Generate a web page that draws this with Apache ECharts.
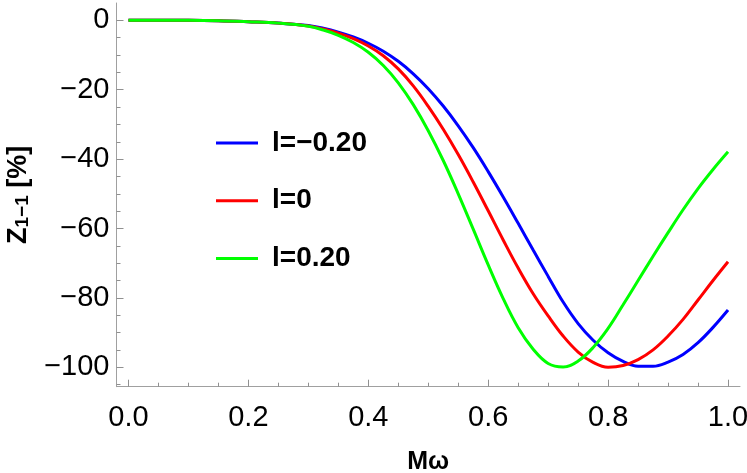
<!DOCTYPE html>
<html>
<head>
<meta charset="utf-8">
<script src="https://cdn.jsdelivr.net/npm/echarts@6/dist/echarts.min.js"></script>
<style>
html,body{margin:0;padding:0;background:#fff;}
#c{width:747px;height:473px;}
</style>
</head>
<body>
<div id="c"></div>
<script>
const seriesNames = ['l=\u22120.20', 'l=0', 'l=0.20'];
const seriesColors = ['#0000ff', '#ff0000', '#00ff00'];

const blueData = [[0,0],[0.1,0],[0.15,-0.1],[0.2,-0.4],[0.25,-0.8],[0.3,-1.5],[0.325,-2.3],[0.35,-3.4],[0.375,-4.8],[0.4,-6.6],[0.425,-8.9],[0.45,-11.8],[0.475,-15.4],[0.5,-19.7],[0.525,-24.7],[0.55,-30.4],[0.575,-36.7],[0.6,-43.6],[0.625,-50.9],[0.65,-58.5],[0.675,-66.2],[0.7,-73.8],[0.725,-81.2],[0.75,-87.4],[0.775,-92.2],[0.8,-95.8],[0.825,-98.3],[0.85,-99.7],[0.875,-99.7],[0.9,-98.5],[0.925,-96.3],[0.95,-92.9],[0.975,-88.5],[1.0,-83.5]];

const redData = [[0,0],[0.1,0],[0.15,-0.1],[0.2,-0.4],[0.25,-0.8],[0.3,-1.6],[0.325,-2.5],[0.35,-3.7],[0.375,-5.3],[0.4,-7.4],[0.425,-10.2],[0.45,-14.0],[0.475,-18.9],[0.5,-24.8],[0.525,-31.4],[0.55,-38.7],[0.575,-46.6],[0.6,-54.9],[0.625,-63.3],[0.65,-71.4],[0.675,-78.8],[0.7,-85.2],[0.725,-91.0],[0.75,-95.6],[0.775,-98.6],[0.8,-100],[0.825,-99.5],[0.85,-97.8],[0.875,-95.0],[0.9,-91.0],[0.925,-86.2],[0.95,-80.6],[0.975,-75.0],[1.0,-69.6]];

const greenData = [[0,0],[0.1,0],[0.15,-0.1],[0.2,-0.4],[0.25,-0.8],[0.3,-1.7],[0.325,-2.8],[0.35,-4.3],[0.375,-6.4],[0.4,-9.2],[0.425,-13.0],[0.45,-18.0],[0.475,-24.3],[0.5,-31.8],[0.525,-40.4],[0.55,-50.0],[0.575,-60.2],[0.6,-70.5],[0.625,-80.2],[0.65,-88.6],[0.675,-94.8],[0.7,-98.9],[0.725,-99.9],[0.75,-98.2],[0.775,-94.3],[0.8,-88.8],[0.825,-82.0],[0.85,-75.0],[0.875,-68.0],[0.9,-61.2],[0.925,-54.6],[0.95,-48.5],[0.975,-43.0],[1.0,-37.9]];

const xMajorTicks = [0, 0.2, 0.4, 0.6, 0.8, 1.0];
const xMinorTicks = [0.05,0.1,0.15,0.25,0.3,0.35,0.45,0.5,0.55,0.65,0.7,0.75,0.85,0.9,0.95];
const yMajorTicks = [0, -20, -40, -60, -80, -100];
const yMinorTicks = [-5,-10,-15,-25,-30,-35,-45,-50,-55,-65,-70,-75,-85,-90,-95,-105];

const FONT = 'Liberation Sans';
const axisColor = '#a0a0a0';
const tickColor = '#909090';

const chart = echarts.init(document.getElementById('c'));
const xMin = -0.02, xMax = 1.02, yMin = -105.6, yMax = 5;

chart.setOption({
  animation: false,
  backgroundColor: '#fff',
  grid: { left: 116.5, right: 7, top: 3, bottom: 86.3, containLabel: false, outerBoundsMode: 'none' },
  legend: {
    orient: 'vertical',
    left: 216, top: 128,
    padding: 0,
    itemWidth: 42, itemHeight: 3,
    itemGap: 27.7,
    icon: 'rect',
    textStyle: { fontFamily: FONT, fontWeight: 'bold', fontSize: 28, color: '#000', lineHeight: 30, padding: [0,0,0,9] },
    data: seriesNames
  },
  xAxis: [{
    type: 'value', min: xMin, max: xMax, position: 'bottom',
    name: 'M\u03c9', nameLocation: 'middle', nameGap: 63,
    nameTextStyle: { fontFamily: FONT, fontWeight: 'bold', fontSize: 25, color: '#000' },
    axisLine: { show: true, onZero: false, lineStyle: { color: axisColor, width: 1 } },
    axisTick: { show: true, inside: true, length: 7, customValues: xMajorTicks, lineStyle: { color: tickColor, width: 1 } },
    axisLabel: { show: true, customValues: xMajorTicks, margin: 17, fontFamily: FONT, fontSize: 29, color: '#000', formatter: v => v.toFixed(1) },
    splitLine: { show: false }
  }, {
    type: 'value', min: xMin, max: xMax, position: 'bottom',
    axisLine: { show: false, onZero: false },
    axisTick: { show: true, inside: true, length: 4, customValues: xMinorTicks, lineStyle: { color: tickColor, width: 1 } },
    axisLabel: { show: false },
    splitLine: { show: false }
  }],
  yAxis: [{
    type: 'value', min: yMin, max: yMax, position: 'left',
    name: '{b|Z}{s|1\u22121}{b| [%]}', nameLocation: 'middle', nameGap: 84, nameRotate: 90,
    nameTextStyle: { rich: {
      b: { fontFamily: FONT, fontWeight: 'bold', fontSize: 27, color: '#000' },
      s: { fontFamily: FONT, fontWeight: 'bold', fontSize: 19, color: '#000', verticalAlign: 'bottom', padding: [9,0,0,0] }
    } },
    axisLine: { show: true, onZero: false, lineStyle: { color: axisColor, width: 1 } },
    axisTick: { show: true, inside: true, length: 7, customValues: yMajorTicks, lineStyle: { color: tickColor, width: 1 } },
    axisLabel: { show: true, customValues: yMajorTicks, margin: 7, fontFamily: FONT, fontSize: 29, color: '#000', formatter: v => String(v).replace('-', '\u2212') },
    splitLine: { show: false }
  }, {
    type: 'value', min: yMin, max: yMax, position: 'left',
    axisLine: { show: false, onZero: false },
    axisTick: { show: true, inside: true, length: 4, customValues: yMinorTicks, lineStyle: { color: tickColor, width: 1 } },
    axisLabel: { show: false },
    splitLine: { show: false }
  }],
  series: [
    { name: seriesNames[0], type: 'line', data: blueData, smooth: 0.4, symbol: 'none', color: seriesColors[0], lineStyle: { width: 3, color: seriesColors[0] }, z: 3 },
    { name: seriesNames[1], type: 'line', data: redData, smooth: 0.4, symbol: 'none', color: seriesColors[1], lineStyle: { width: 3, color: seriesColors[1] }, z: 3 },
    { name: seriesNames[2], type: 'line', data: greenData, smooth: 0.4, symbol: 'none', color: seriesColors[2], lineStyle: { width: 3, color: seriesColors[2] }, z: 3 }
  ]
});
</script>
</body>
</html>
